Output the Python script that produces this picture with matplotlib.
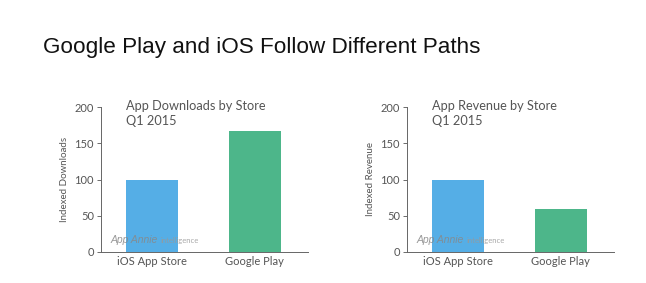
import matplotlib
matplotlib.use("Agg")
import matplotlib.pyplot as plt

categories = ["iOS App Store", "Google Play"]
downloads = [100, 167]
revenue = [100, 59]
yticks = [0, 50, 100, 150, 200]
colors = ["#55AEE6", "#4DB68A"]

fig = plt.figure(figsize=(6.46, 2.83), dpi=100)
fig.patch.set_facecolor("white")

fig.text(43/646, 1 - 47/283, "Google Play and iOS Follow Different Paths",
         fontsize=16.2, family="Liberation Sans", color="#111111",
         ha="left", va="center")

txt_color = "#555555"
font = "Lato"

panels = [
    (101, downloads, "App Downloads by Store\nQ1 2015", "Indexed Downloads"),
    (407, revenue, "App Revenue by Store\nQ1 2015", "Indexed Revenue"),
]

for left_px, vals, title, ylabel in panels:
    ax = fig.add_axes([left_px/646, 31/283, 207/646, 145/283])
    ax.bar(range(len(categories)), vals, width=0.51, color=colors, zorder=2)
    ax.set_xlim(-0.5, 1.52)
    ax.set_ylim(0, 200)
    ax.set_yticks(yticks)
    ax.set_xticks(range(len(categories)))
    ax.set_xticklabels(categories, family=font, fontsize=8, color=txt_color)
    ax.tick_params(axis="y", labelsize=8, colors=txt_color, length=3, width=0.6, pad=2)
    ax.tick_params(axis="x", length=0, pad=3, colors=txt_color)
    for lab in ax.get_yticklabels():
        lab.set_family(font)
    for s in ["top", "right"]:
        ax.spines[s].set_visible(False)
    for s in ["left", "bottom"]:
        ax.spines[s].set_color("#666666")
        ax.spines[s].set_linewidth(0.7)
    ax.set_ylabel(ylabel, family=font, fontsize=7, color=txt_color, labelpad=4)
    ax.text(0.12, 1.045, title, transform=ax.transAxes, family=font,
            fontsize=9.2, color=txt_color, ha="left", va="top", linespacing=1.3)
    wm = ax.text(0.045, 0.05, "App Annie", transform=ax.transAxes,
                 family=["Liberation Sans Narrow", "Liberation Sans", "DejaVu Sans"],
                 fontsize=7.5, style="italic", color="#888888", alpha=0.85,
                 ha="left", va="bottom", zorder=3)
    ax.annotate("intelligence", xy=(1, 0), xycoords=wm, xytext=(2, 0.5),
                textcoords="offset points", family=font, fontsize=5.5,
                color="#999999", alpha=0.85, ha="left", va="bottom", zorder=3)

fig.savefig("out.png", dpi=100)
